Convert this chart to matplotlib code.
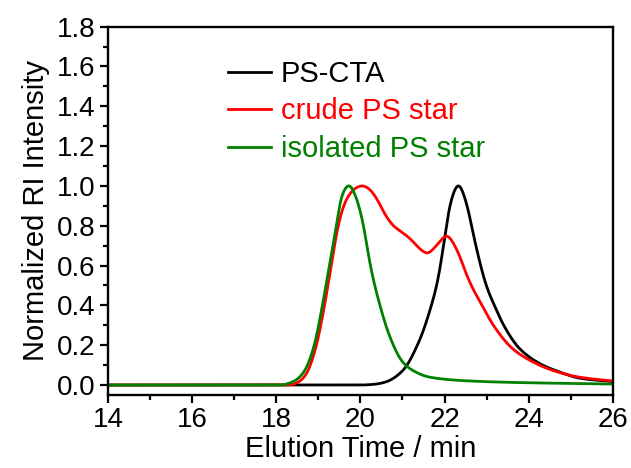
import numpy as np
import matplotlib
matplotlib.use("Agg")
import matplotlib.pyplot as plt
from matplotlib.ticker import MultipleLocator, FormatStrFormatter

plt.rcParams['font.family'] = ['Liberation Sans', 'DejaVu Sans']

# elution traces (time in min, normalized RI)
cta_t = [14.0, 20.0, 20.3, 20.6, 21.0, 21.4, 21.65, 21.85, 22.0, 22.13, 22.33, 22.53,
         22.68, 22.84, 23.0, 23.2, 23.4, 23.79, 24.27, 24.75, 25.22, 26.0]
cta_y = [0.0, 0.0, 0.003, 0.015, 0.07, 0.22, 0.37, 0.53, 0.73, 0.90, 1.0, 0.90,
         0.755, 0.61, 0.49, 0.39, 0.30, 0.18, 0.106, 0.064, 0.034, 0.017]

crude_t = [14.0, 18.3, 18.5, 18.7, 18.93, 19.13, 19.29, 19.45, 19.6, 19.75, 19.9, 20.05,
           20.2, 20.4, 20.6, 20.8, 21.0, 21.2, 21.4, 21.59, 21.81, 22.05, 22.29, 22.53,
           22.68, 22.84, 23.16, 23.63, 24.11, 24.59, 25.22, 26.0]
crude_y = [0.0, 0.0, 0.012, 0.05, 0.18, 0.38, 0.58, 0.78, 0.90, 0.96, 0.99, 1.0,
           0.985, 0.93, 0.85, 0.795, 0.765, 0.73, 0.685, 0.66, 0.70, 0.75, 0.68, 0.55,
           0.48, 0.42, 0.30, 0.18, 0.115, 0.072, 0.039, 0.02]

iso_t = [14.0, 18.1, 18.4, 18.64, 18.88, 19.08, 19.24, 19.35, 19.43, 19.55, 19.73, 19.91,
         20.07, 20.23, 20.46, 20.7, 21.0, 21.25, 21.65, 22.44, 23.63, 26.0]
iso_y = [0.0, 0.0, 0.017, 0.06, 0.18, 0.38, 0.57, 0.70, 0.80, 0.946, 1.0, 0.93,
         0.80, 0.60, 0.40, 0.24, 0.115, 0.072, 0.039, 0.022, 0.013, 0.005]

labels = ["PS-CTA", "crude PS star", "isolated PS star"]
colors = ["black", "#ff0000", "#008000"]


def smooth(t, y, n=1201, sigma=0.05):
    # monotone piecewise cubic through the read points, lightly blurred
    t = np.asarray(t, float)
    y = np.asarray(y, float)
    h = np.diff(t)
    d = np.diff(y) / h
    m = np.zeros_like(y)
    for i in range(1, len(y) - 1):
        if d[i - 1] * d[i] > 0:
            w1 = 2 * h[i] + h[i - 1]
            w2 = h[i] + 2 * h[i - 1]
            m[i] = (w1 + w2) / (w1 / d[i - 1] + w2 / d[i])
    m[-1] = d[-1]
    tt = np.linspace(t[0], t[-1], n)
    k = np.clip(np.searchsorted(t, tt) - 1, 0, len(t) - 2)
    s = (tt - t[k]) / h[k]
    h00 = 2 * s**3 - 3 * s**2 + 1
    h10 = s**3 - 2 * s**2 + s
    h01 = -2 * s**3 + 3 * s**2
    h11 = s**3 - s**2
    yy = h00 * y[k] + h10 * h[k] * m[k] + h01 * y[k + 1] + h11 * h[k] * m[k + 1]
    dt = tt[1] - tt[0]
    kx = np.arange(-4 * sigma, 4 * sigma + dt, dt)
    ker = np.exp(-0.5 * (kx / sigma) ** 2)
    ker /= ker.sum()
    pad = len(kx) // 2
    yp = np.concatenate([np.full(pad, yy[0]), yy, np.full(pad, yy[-1])])
    yy = np.convolve(yp, ker, mode='same')[pad:-pad]
    return tt, yy / yy.max()


fig = plt.figure(figsize=(6.31, 4.68), dpi=100)
ax = fig.add_axes([0.1715, 0.156, 0.7995, 0.787])

for (t, y), lab, c in zip([(cta_t, cta_y), (crude_t, crude_y), (iso_t, iso_y)], labels, colors):
    tt, yy = smooth(t, y)
    ax.plot(tt, yy, color=c, lw=2.0, label=lab)

ax.set_xlim(14, 26)
ax.set_ylim(-0.05, 1.8)
ax.xaxis.set_major_locator(MultipleLocator(2))
ax.xaxis.set_minor_locator(MultipleLocator(1))
ax.yaxis.set_major_locator(MultipleLocator(0.2))
ax.yaxis.set_minor_locator(MultipleLocator(0.1))
ax.yaxis.set_major_formatter(FormatStrFormatter('%.1f'))
ax.tick_params(which='major', direction='out', length=6, width=1.6, labelsize=20, pad=3)
ax.tick_params(which='minor', direction='out', length=3.5, width=1.6)
for sp in ax.spines.values():
    sp.set_linewidth(1.7)

ax.set_xlabel("Elution Time / min", fontsize=21, labelpad=1)
ax.set_ylabel("Normalized RI Intensity", fontsize=21, labelpad=5)

ax.legend(loc='upper left', bbox_to_anchor=(0.238, 0.91), frameon=False, fontsize=21,
          labelcolor='linecolor', handlelength=1.45, handletextpad=0.35,
          labelspacing=0.33, borderpad=0, borderaxespad=0)

fig.savefig("out.png", dpi=100)
